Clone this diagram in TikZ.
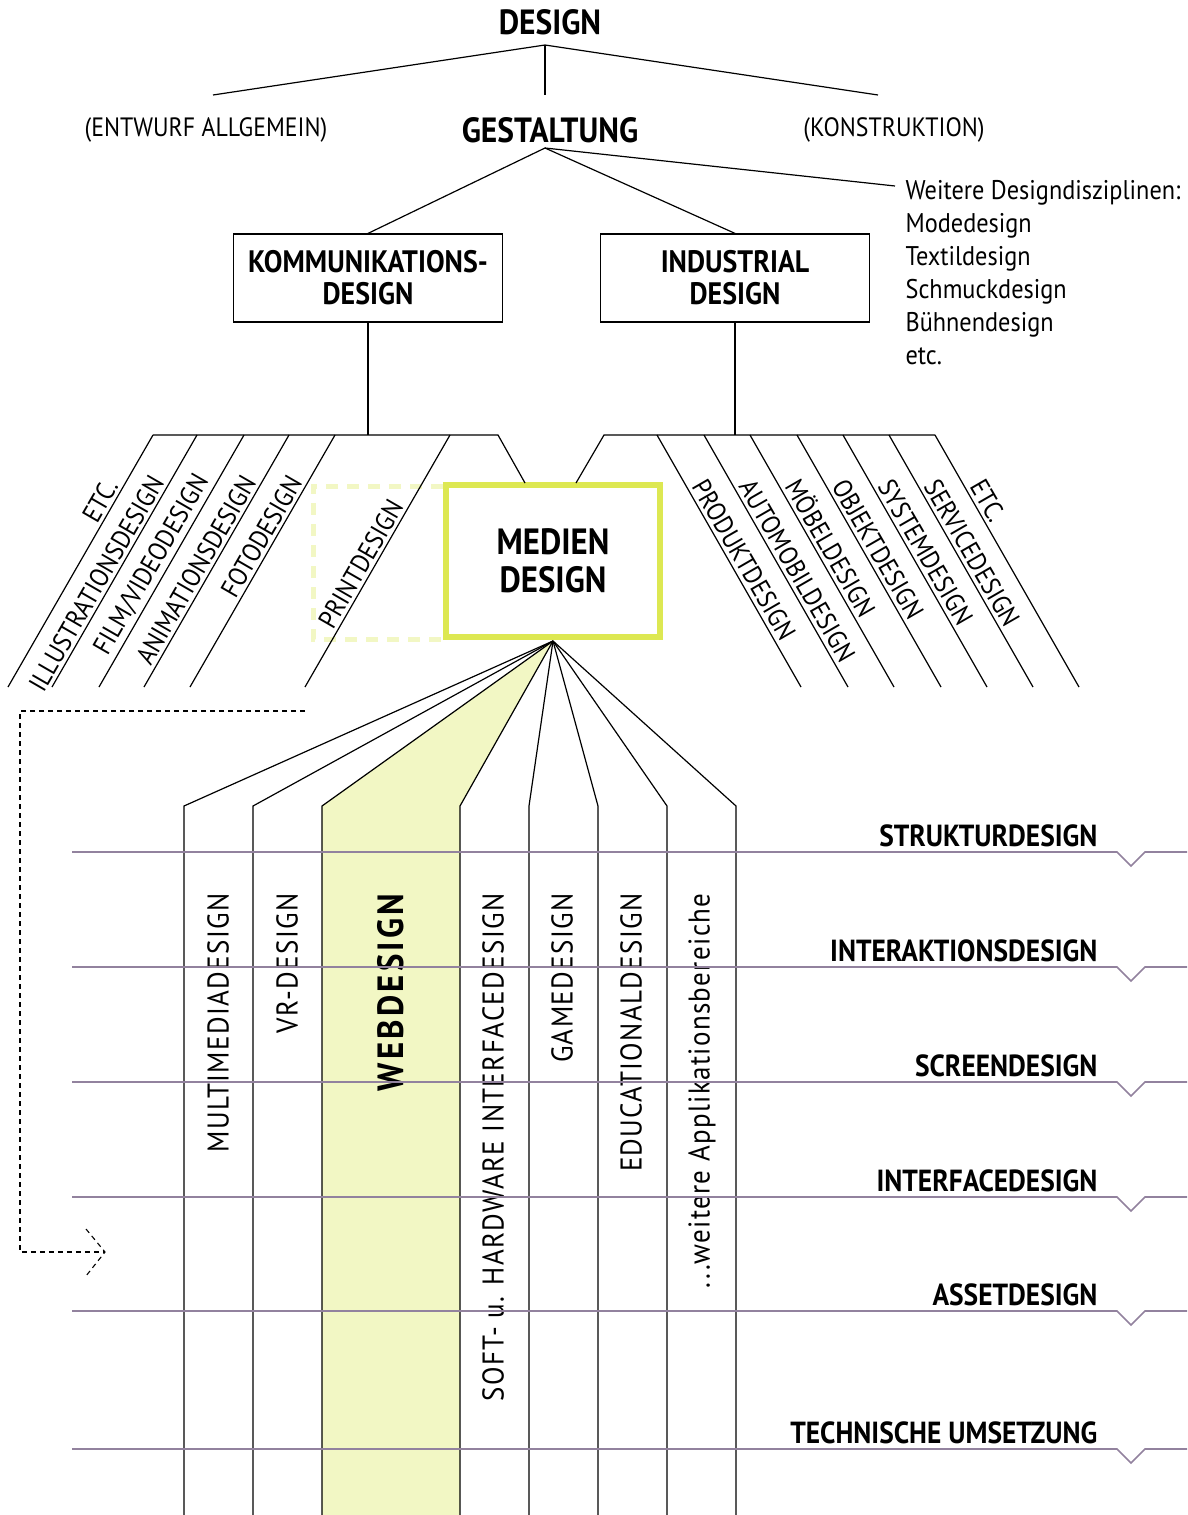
\documentclass[tikz,border=0pt]{standalone}
\usepackage{fontspec}
\setmainfont{PT Sans}[FakeStretch=0.9]
\newfontfamily\spaced{PT Sans}[LetterSpace=4.5, FakeStretch=0.9]
\newfontfamily\weitspaced{PT Sans}[LetterSpace=9, FakeStretch=0.9]

\definecolor{mediengruen}{RGB}{221,232,82}
\definecolor{webgelb}{RGB}{242,247,196}
\definecolor{ebene}{RGB}{146,130,158}

\tikzset{
  titel/.style={font=\bfseries\fontsize{35}{35}\selectfont},
  klammer/.style={font=\fontsize{26.5}{26.5}\selectfont},
  kasten/.style={draw, line width=1.2pt, minimum width=269pt, minimum height=88pt,
    align=center, font=\bfseries\fontsize{31}{32}\selectfont},
  schraeg/.style={font=\fontsize{26.5}{26.5}\selectfont, inner sep=3pt},
  spalte/.style={font=\spaced\fontsize{30}{30}\selectfont, rotate=90, anchor=east, inner sep=0pt},
  ebenentext/.style={font=\bfseries\fontsize{30.5}{30.5}\selectfont, anchor=base east, inner sep=0pt},
  ebenenlinie/.style={draw=ebene, line width=1.6pt},
  strichel/.style={dash pattern=on 5pt off 4pt, line width=1.1pt},
}

\begin{document}
\begin{tikzpicture}[x=1pt, y=-1pt, line width=1.2pt]
\useasboundingbox (0,0) rectangle (1187,1515);

% Kopf: Design
\node[titel] (design) at (550,22) {DESIGN};
\node[klammer] (entwurf) at (206,130) {(ENTWURF ALLGEMEIN)};
\node[titel] (gestaltung) at (550,130) {GESTALTUNG};
\node[klammer] (konstruktion) at (894,130) {(KONSTRUKTION)};
\coordinate (d) at (545,45);
\coordinate (d1) at (213,95);
\coordinate (d2) at (545,95);
\coordinate (d3) at (878,95);
\draw (d1) -- (d) -- (d3);
\draw (d) -- (d2);

% Gestaltung
\node[kasten] (komm) at (368,278) {KOMMUNIKATIONS-\\DESIGN};
\node[kasten] (ind) at (735,278) {INDUSTRIAL\\DESIGN};
\node[font=\fontsize{27}{33}\selectfont, align=left, anchor=north west, inner sep=0pt] (weitere)
  at (905,180) {Weitere Designdisziplinen:\\Modedesign\\Textildesign\\Schmuckdesign\\Bühnendesign\\etc.};
\coordinate (g) at (545,148);
\coordinate (w) at (895,186);
\draw (komm.north) -- (g) -- (ind.north);
\draw (g) -- (w);

% Printdesign gestrichelt hinterlegt
\draw[webgelb, line width=5pt, dash pattern=on 12pt off 9pt] (443,486) -- (313,486) -- (313,639) -- (443,639);

% Mediendesign
\node[draw=mediengruen, line width=6pt, minimum width=214pt, minimum height=152pt, align=center,
  font=\bfseries\fontsize{36.5}{38}\selectfont] (medien) at (553,561) {MEDIEN\\DESIGN};

% Zweige Kommunikationsdesign
\coordinate (k) at (368,435);
\draw (komm.south) -- (k);
\draw (153,435) -- (498,435) -- (525,483);
\draw (153,435) -- (8,687) node[schraeg, pos=.2, rotate=60, anchor=south east] {ETC.};
\draw (197,435) -- (52,687) node[schraeg, pos=.185, rotate=60, anchor=south east] {ILLUSTRATIONSDESIGN};
\draw (244,435) -- (99,687) node[schraeg, pos=.185, rotate=60, anchor=south east] {FILM/VIDEODESIGN};
\draw (289,435) -- (144,687) node[schraeg, pos=.185, rotate=60, anchor=south east] {ANIMATIONSDESIGN};
\draw (335,435) -- (190,687) node[schraeg, pos=.185, rotate=60, anchor=south east] {FOTODESIGN};
\draw (450,435) -- (305,687) node[schraeg, pos=.28, rotate=60, anchor=south east] {PRINTDESIGN};

% Zweige Industrial Design
\coordinate (i) at (735,435);
\draw (ind.south) -- (i);
\draw (935,435) -- (604,435) -- (576,483);
\draw (657,435) -- (801,687) node[schraeg, pos=.2, rotate=-60, anchor=south west] {PRODUKTDESIGN};
\draw (704,435) -- (848,687) node[schraeg, pos=.2, rotate=-60, anchor=south west] {AUTOMOBILDESIGN};
\draw (750,435) -- (894,687) node[schraeg, pos=.2, rotate=-60, anchor=south west] {MÖBELDESIGN};
\draw (797,435) -- (941,687) node[schraeg, pos=.2, rotate=-60, anchor=south west] {OBJEKTDESIGN};
\draw (843,435) -- (987,687) node[schraeg, pos=.2, rotate=-60, anchor=south west] {SYSTEMDESIGN};
\draw (889,435) -- (1033,687) node[schraeg, pos=.2, rotate=-60, anchor=south west] {SERVICEDESIGN};
\draw (935,435) -- (1079,687) node[schraeg, pos=.2, rotate=-60, anchor=south west] {ETC.};

% Facher unter Mediendesign
\coordinate (spitze) at (553,641);
\fill[webgelb] (322,806) -- (spitze) -- (460,806) -- (460,1515) -- (322,1515) -- cycle;
\draw (spitze) -- (184,806) -- (184,1515);
\draw (spitze) -- (253,806) -- (253,1515);
\draw (spitze) -- (322,806) -- (322,1515);
\draw (spitze) -- (460,806) -- (460,1515);
\draw (spitze) -- (529,806) -- (529,1515);
\draw (spitze) -- (598,806) -- (598,1515);
\draw (spitze) -- (667,806) -- (667,1515);
\draw (spitze) -- (736,806) -- (736,1515);

\node[spalte] (multimedia) at (218,893) {MULTIMEDIADESIGN};
\node[spalte] (vr) at (287,893) {VR-DESIGN};
\node[spalte, font=\weitspaced\bfseries\fontsize{36.5}{36.5}\selectfont] (web) at (391,893) {WEBDESIGN};
\node[spalte] (soft) at (493,893) {SOFT- u. HARDWARE INTERFACEDESIGN};
\node[spalte] (game) at (562,893) {GAMEDESIGN};
\node[spalte] (education) at (631,893) {EDUCATIONALDESIGN};
\node[spalte] (bereiche) at (702,893) {...weitere Applikationsbereiche};

% Ebenen
\draw[ebenenlinie] (72,852) -- (1117,852) -- (1131,866) -- (1145,852) -- (1187,852);
\draw[ebenenlinie] (72,967) -- (1117,967) -- (1131,981) -- (1145,967) -- (1187,967);
\draw[ebenenlinie] (72,1082) -- (1117,1082) -- (1131,1096) -- (1145,1082) -- (1187,1082);
\draw[ebenenlinie] (72,1197) -- (1117,1197) -- (1131,1211) -- (1145,1197) -- (1187,1197);
\draw[ebenenlinie] (72,1311) -- (1117,1311) -- (1131,1325) -- (1145,1311) -- (1187,1311);
\draw[ebenenlinie] (72,1449) -- (1117,1449) -- (1131,1463) -- (1145,1449) -- (1187,1449);
\node[ebenentext] (struktur) at (1098,846) {STRUKTURDESIGN};
\node[ebenentext] (interaktion) at (1098,961) {INTERAKTIONSDESIGN};
\node[ebenentext] (screen) at (1098,1076) {SCREENDESIGN};
\node[ebenentext] (interface) at (1098,1191) {INTERFACEDESIGN};
\node[ebenentext] (asset) at (1098,1305) {ASSETDESIGN};
\node[ebenentext] (technik) at (1098,1443) {TECHNISCHE UMSETZUNG};

% gestrichelter Pfeil
\coordinate (p0) at (305,711);
\coordinate (p1) at (20,711);
\coordinate (p2) at (20,1252);
\coordinate (p3) at (105,1252);
\draw[strichel] (p0) -- (p1) -- (p2) -- (p3);
\draw[strichel] (86,1229) -- (p3) -- (86,1276);
\end{tikzpicture}
\end{document}
